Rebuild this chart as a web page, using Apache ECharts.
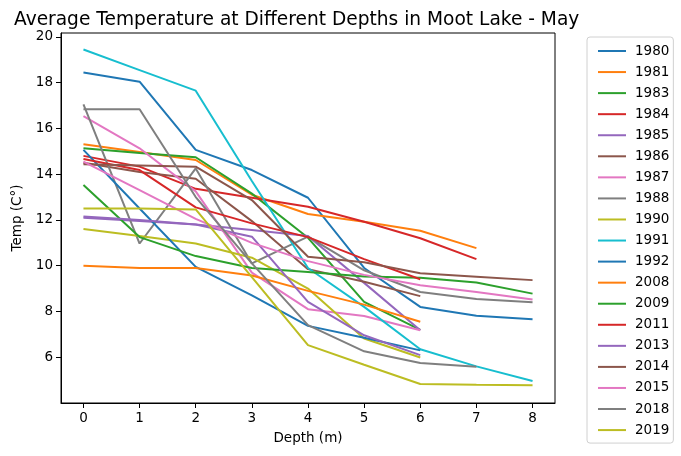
<!DOCTYPE html>
<html>
<head>
<meta charset="utf-8">
<script src="https://cdn.jsdelivr.net/npm/echarts@6/dist/echarts.min.js"></script>
<style>
  html, body { margin: 0; padding: 0; background: #fff; }
  #chart { width: 681px; height: 456px; }
</style>
</head>
<body>
<div id="chart"></div>
<script>
// depth in metres, one value per depth (series stop where sampling stopped)
var depths = [0, 1, 2, 3, 4, 5, 6, 7, 8];
var years = ['1980', '1981', '1983', '1984', '1985', '1986', '1987', '1988', '1990',
  '1991', '1992', '2008', '2009', '2011', '2013', '2014', '2015', '2018', '2019'];

var t1980 = [18.44, 18.04, 15.06, 14.18, 12.97, 9.9, 8.2, 7.81, 7.66];
var t1981 = [15.31, 14.97, 14.62, 13.1, 12.26, 11.92, 11.53, 10.77];
var t1983 = [15.13, 14.93, 14.74, 13.15, 11.22, 8.42, 7.2];
var t1984 = [14.8, 14.33, 13.36, 12.97, 12.58, 11.92, 11.2, 10.29];
var t1985 = [12.1, 11.95, 11.8, 11.56, 11.3, 9.25, 7.18];
var t1986 = [14.5, 14.1, 13.8, 11.95, 9.85, 9.3, 8.67];
var t1987 = [16.54, 15.13, 13.25, 9.7, 8.1, 7.8, 7.18];
var t1988 = [17.05, 10.97, 14.25, 10.1, 11.27, 9.8, 8.85, 8.55, 8.4];
var t1990 = [11.6, 11.3, 10.97, 10.35, 9.0, 6.82, 5.99];
var t1991 = [19.45, 18.55, 17.65, 13.7, 9.9, 8.2, 6.35, 5.6, 4.96];
var t1992 = [15.06, 12.5, 9.95, 8.7, 7.37, 6.85, 6.3];
var t2008 = [10.0, 9.9, 9.9, 9.57, 8.9, 8.3, 7.55];
var t2009 = [13.53, 11.25, 10.42, 9.9, 9.72, 9.53, 9.47, 9.27, 8.78];
var t2011 = [14.66, 14.18, 12.55, 11.85, 11.25, 10.29, 9.41];
var t2013 = [12.15, 12.0, 11.8, 11.27, 8.42, 6.96, 6.09];
var t2014 = [14.43, 14.38, 14.33, 12.87, 10.39, 10.15, 9.67, 9.52, 9.37];
var t2015 = [14.55, 13.3, 12.05, 11.0, 10.2, 9.6, 9.15, 8.85, 8.52];
var t2018 = [16.84, 16.84, 13.0, 10.1, 7.4, 6.26, 5.75, 5.58];
var t2019 = [12.5, 12.5, 12.46, 9.5, 6.53, 5.67, 4.83, 4.8, 4.78];

var temps = [t1980, t1981, t1983, t1984, t1985, t1986, t1987, t1988, t1990,
  t1991, t1992, t2008, t2009, t2011, t2013, t2014, t2015, t2018, t2019];

var yTicks = [6, 8, 10, 12, 14, 16, 18, 20];

// matplotlib tab10 cycle
var color = ['#1f77b4', '#ff7f0e', '#2ca02c', '#d62728', '#9467bd',
  '#8c564b', '#e377c2', '#7f7f7f', '#bcbd22', '#17becf'];

var font = 'DejaVu Sans';

var series = years.map(function (y, i) {
  return {
    name: y,
    type: 'line',
    symbol: 'none',
    animation: false,
    lineStyle: { width: 2, color: color[i % 10] },
    itemStyle: { color: color[i % 10] },
    data: temps[i].map(function (v, j) { return [depths[j], v]; })
  };
});

var chart = echarts.init(document.getElementById('chart'), null, { renderer: 'canvas' });
chart.setOption({
  animation: false,
  backgroundColor: '#fff',
  color: color,
  title: {
    text: 'Average Temperature at Different Depths in Moot Lake - May',
    left: 9,
    top: 6,
    textStyle: { fontFamily: font, fontSize: 18.6, fontWeight: 'normal', color: '#000' }
  },
  grid: {
    left: 61, right: 126, top: 33, bottom: 53,
    containLabel: false,
    show: true, borderColor: '#000', borderWidth: 1
  },
  legend: {
    orient: 'vertical',
    left: 587,
    top: 37,
    padding: [7, 4, 6, 11],
    icon: 'rect',
    itemWidth: 28,
    itemHeight: 2,
    itemGap: 7.06,
    borderColor: '#d0d0d0',
    borderWidth: 1,
    borderRadius: 3,
    backgroundColor: '#fff',
    textStyle: { fontFamily: font, fontSize: 13.5, color: '#000', lineHeight: 14, padding: [0, 0, 0, 4] },
    data: years
  },
  xAxis: {
    type: 'value',
    min: -0.4,
    max: 8.4,
    name: 'Depth (m)',
    nameLocation: 'middle',
    nameGap: 28,
    nameTextStyle: { fontFamily: font, fontSize: 13.5, color: '#000' },
    splitLine: { show: false },
    axisLine: { show: true, onZero: false, lineStyle: { color: '#000', width: 1 } },
    axisTick: { show: true, inside: false, length: 5, customValues: depths, lineStyle: { color: '#000' } },
    axisLabel: { customValues: depths, fontFamily: font, fontSize: 13.5, color: '#000', margin: 8 }
  },
  yAxis: {
    type: 'value',
    min: 4.0,
    max: 20.17,
    name: 'Temp (C°)',
    nameLocation: 'middle',
    nameGap: 36,
    nameTextStyle: { fontFamily: font, fontSize: 13.5, color: '#000' },
    splitLine: { show: false },
    axisLine: { show: true, onZero: false, lineStyle: { color: '#000', width: 1 } },
    axisTick: { show: true, inside: false, length: 5, customValues: yTicks, lineStyle: { color: '#000' } },
    axisLabel: { customValues: yTicks, fontFamily: font, fontSize: 13.5, color: '#000', margin: 8 }
  },
  series: series
});
</script>
</body>
</html>
